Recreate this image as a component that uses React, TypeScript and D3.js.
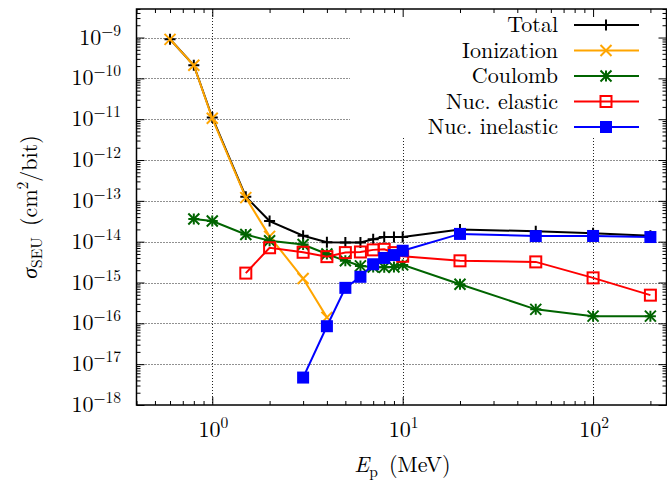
import React, { useEffect, useRef } from 'react';
import * as d3 from 'd3';

// proton energy (MeV) and SEU cross-section (cm^2/bit)
const totalEnergy = [0.6, 0.8, 1, 1.5, 2, 3, 4, 5, 6, 7, 8, 9, 10, 20, 50, 100, 200];
const totalSigma = [9.1e-10, 2.1e-10, 1.1e-11, 1.26e-13, 3.2e-14, 1.4e-14, 9.7e-15, 9.6e-15, 9.6e-15, 1.15e-14, 1.3e-14, 1.3e-14, 1.3e-14, 2.0e-14, 1.8e-14, 1.6e-14, 1.4e-14];

const ionEnergy = [0.6, 0.8, 1, 1.5, 2, 3, 4];
const ionSigma = [9.0e-10, 2.1e-10, 1.05e-11, 1.2e-13, 1.35e-14, 1.25e-15, 1.4e-16];

const coulombEnergy = [0.8, 1, 1.5, 2, 3, 4, 5, 6, 7, 8, 9, 10, 20, 50, 100, 200];
const coulombSigma = [3.6e-14, 3.2e-14, 1.5e-14, 1.05e-14, 8.5e-15, 5.0e-15, 3.4e-15, 2.55e-15, 2.4e-15, 2.35e-15, 2.4e-15, 2.7e-15, 9.1e-16, 2.2e-16, 1.5e-16, 1.5e-16];

const elasticEnergy = [1.5, 2, 3, 4, 5, 6, 7, 8, 9, 10, 20, 50, 100, 200];
const elasticSigma = [1.7e-15, 7.1e-15, 5.5e-15, 4.3e-15, 5.4e-15, 5.6e-15, 6.3e-15, 6.5e-15, 5.4e-15, 4.4e-15, 3.4e-15, 3.2e-15, 1.3e-15, 4.9e-16];

const inelasticEnergy = [3, 4, 5, 6, 7, 8, 9, 10, 20, 50, 100, 200];
const inelasticSigma = [4.7e-18, 8.5e-17, 7.4e-16, 1.38e-15, 2.8e-15, 4.0e-15, 4.7e-15, 6.0e-15, 1.55e-14, 1.37e-14, 1.38e-14, 1.3e-14];

const seriesNames = ['Total', 'Ionization', 'Coulomb', 'Nuc. elastic', 'Nuc. inelastic'];
const seriesColors = ['#000000', '#ffa500', '#006400', '#ff0000', '#0000ff'];
const seriesMarkers = ['plus', 'cross', 'star', 'square', 'filledSquare'];

const xMajor = [1, 10, 100];
const yExponents = [-18, -17, -16, -15, -14, -13, -12, -11, -10, -9];

const FONT = "'Latin Modern Roman'";

function App() {
    const svgRef = useRef<SVGSVGElement>(null);

    useEffect(() => {
        const svg = d3.select(svgRef.current);
        svg.selectAll('*').remove();

        const width = 667;
        const height = 481;
        const left = 136.5;
        const right = 666.5;
        const top = 9;
        const bottom = 405;

        const x = d3.scaleLog().domain([0.4, 243]).range([left, right]);
        const y = d3.scaleLog().domain([1e-18, 5e-9]).range([bottom, top]);
        const crisp = (v: number) => Math.round(v) + 0.5;

        const xMinor: number[] = [];
        [0.1, 1, 10, 100].forEach(d => {
            for (let k = 2; k <= 9; k++) {
                const v = d * k;
                if (v >= 0.4 && v <= 243) xMinor.push(v);
            }
        });
        const yMinor: number[] = [];
        yExponents.forEach(e => {
            for (let k = 2; k <= 9; k++) {
                const v = k * Math.pow(10, e);
                if (v <= 5e-9) yMinor.push(v);
            }
        });
        const yMajor = yExponents.map(e => Math.pow(10, e));

        svg.append('rect').attr('width', width).attr('height', height).attr('fill', '#fff');

        // grid
        const grid = svg.append('g')
            .attr('stroke', '#222')
            .attr('stroke-width', 1)
            .attr('stroke-dasharray', '1,2');
        xMajor.forEach(v => {
            grid.append('line')
                .attr('x1', crisp(x(v))).attr('x2', crisp(x(v)))
                .attr('y1', top).attr('y2', bottom);
        });
        yMajor.slice(1).forEach(v => {
            grid.append('line')
                .attr('x1', left).attr('x2', right)
                .attr('y1', crisp(y(v))).attr('y2', crisp(y(v)));
        });

        // key background hides the grid behind it
        svg.append('rect')
            .attr('x', 350).attr('y', top)
            .attr('width', right - 350).attr('height', 129)
            .attr('fill', '#fff');

        // ticks on all four sides, pointing in
        const noLabel = () => '';
        const tickAxis = (axis: any, transform: string) => {
            svg.append('g')
                .attr('transform', transform)
                .call(axis)
                .call((g: any) => g.select('.domain').remove())
                .call((g: any) => g.selectAll('.tick line').attr('stroke', '#000').attr('stroke-width', 1));
        };
        tickAxis(d3.axisBottom(x).tickValues(xMajor).tickSize(-8).tickFormat(noLabel), `translate(0,${bottom})`);
        tickAxis(d3.axisBottom(x).tickValues(xMinor).tickSize(-4).tickFormat(noLabel), `translate(0,${bottom})`);
        tickAxis(d3.axisTop(x).tickValues(xMajor).tickSize(-8).tickFormat(noLabel), `translate(0,${top})`);
        tickAxis(d3.axisTop(x).tickValues(xMinor).tickSize(-4).tickFormat(noLabel), `translate(0,${top})`);
        tickAxis(d3.axisLeft(y).tickValues(yMajor).tickSize(-8).tickFormat(noLabel), `translate(${left},0)`);
        tickAxis(d3.axisLeft(y).tickValues(yMinor).tickSize(-4).tickFormat(noLabel), `translate(${left},0)`);
        tickAxis(d3.axisRight(y).tickValues(yMajor).tickSize(-8).tickFormat(noLabel), `translate(${right},0)`);
        tickAxis(d3.axisRight(y).tickValues(yMinor).tickSize(-4).tickFormat(noLabel), `translate(${right},0)`);

        svg.append('rect')
            .attr('x', left).attr('y', top)
            .attr('width', right - left).attr('height', bottom - top)
            .attr('fill', 'none').attr('stroke', '#000').attr('stroke-width', 1.5);

        // tick labels
        xMajor.forEach((v, i) => {
            const t = svg.append('text')
                .attr('x', x(v) + 1).attr('y', bottom + 32)
                .attr('text-anchor', 'middle')
                .style('font-family', FONT).style('font-size', '22px');
            t.append('tspan').text('10');
            t.append('tspan').attr('dy', -9).style('font-size', '15.5px').text(String(i));
        });
        yExponents.forEach(e => {
            const t = svg.append('text')
                .attr('x', 121).attr('y', y(Math.pow(10, e)) + 7)
                .attr('text-anchor', 'end')
                .style('font-family', FONT).style('font-size', '22px');
            t.append('tspan').text('10');
            t.append('tspan').attr('dy', -9).style('font-size', '15.5px').text('\u2212' + Math.abs(e));
        });

        // axis titles
        const xt = svg.append('text')
            .attr('x', (left + right) / 2 + 1).attr('y', 472)
            .attr('text-anchor', 'middle')
            .style('font-family', FONT).style('font-size', '22px');
        xt.append('tspan').style('font-style', 'italic').text('E');
        xt.append('tspan').attr('dy', 5).style('font-size', '15.5px').text('p');
        xt.append('tspan').attr('dy', -5).text('\u00a0(MeV)');

        const yt = svg.append('text')
            .attr('transform', 'translate(37,207) rotate(-90)')
            .attr('text-anchor', 'middle')
            .style('font-family', FONT).style('font-size', '22px');
        yt.append('tspan').style('font-style', 'italic').text('\u03c3');
        yt.append('tspan').attr('dy', 5).style('font-size', '15.5px').text('SEU');
        yt.append('tspan').attr('dy', -5).text('\u00a0(cm');
        yt.append('tspan').attr('dy', -9).style('font-size', '15.5px').text('2');
        yt.append('tspan').attr('dy', 9).text('/bit)');

        // markers
        const drawMarker = (g: any, kind: string, cx: number, cy: number, color: string) => {
            const r = 5.5;
            if (kind === 'plus' || kind === 'star') {
                g.append('path')
                    .attr('d', `M${cx - r},${cy}H${cx + r}M${cx},${cy - r}V${cy + r}`)
                    .attr('stroke', color).attr('stroke-width', 2).attr('fill', 'none');
            }
            if (kind === 'cross' || kind === 'star') {
                g.append('path')
                    .attr('d', `M${cx - r},${cy - r}L${cx + r},${cy + r}M${cx - r},${cy + r}L${cx + r},${cy - r}`)
                    .attr('stroke', color).attr('stroke-width', 2).attr('fill', 'none');
            }
            if (kind === 'square') {
                g.append('rect')
                    .attr('x', cx - 5.5).attr('y', cy - 5.5).attr('width', 11).attr('height', 11)
                    .attr('stroke', color).attr('stroke-width', 2).attr('fill', 'none');
            }
            if (kind === 'filledSquare') {
                g.append('rect')
                    .attr('x', cx - 6).attr('y', cy - 6).attr('width', 12).attr('height', 12)
                    .attr('fill', color);
            }
        };

        const seriesData = [
            [totalEnergy, totalSigma],
            [ionEnergy, ionSigma],
            [coulombEnergy, coulombSigma],
            [elasticEnergy, elasticSigma],
            [inelasticEnergy, inelasticSigma],
        ];

        const line = d3.line<[number, number]>()
            .x(d => x(d[0]))
            .y(d => y(d[1]));

        seriesData.forEach(([es, ss], i) => {
            const pts: [number, number][] = es.map((e, j) => [e, ss[j]]);
            const g = svg.append('g');
            g.append('path')
                .datum(pts)
                .attr('fill', 'none')
                .attr('stroke', seriesColors[i])
                .attr('stroke-width', 2)
                .attr('d', line);
            pts.forEach(p => drawMarker(g, seriesMarkers[i], x(p[0]), y(p[1]), seriesColors[i]));
        });

        // key
        seriesNames.forEach((name, i) => {
            const cy = 25 + i * 25.5;
            svg.append('text')
                .attr('x', 558).attr('y', cy + 7)
                .attr('text-anchor', 'end')
                .style('font-family', FONT).style('font-size', '22px')
                .text(name);
            const g = svg.append('g');
            g.append('line')
                .attr('x1', 574).attr('x2', 639)
                .attr('y1', cy).attr('y2', cy)
                .attr('stroke', seriesColors[i]).attr('stroke-width', 2);
            drawMarker(g, seriesMarkers[i], 606, cy, seriesColors[i]);
        });
    }, []);

    return (
        <svg ref={svgRef} width={667} height={481}
            style={{ position: 'absolute', left: 0, top: 0 }}></svg>
    );
}

export default App;
